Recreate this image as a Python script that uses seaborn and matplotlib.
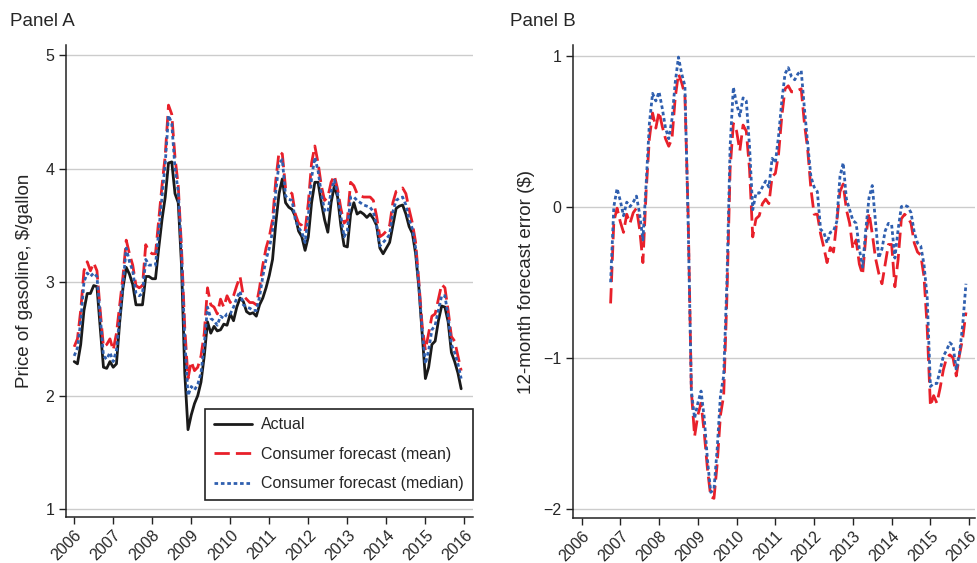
import numpy as np
import pandas as pd
import seaborn as sns
import matplotlib.pyplot as plt

# ---------------- data (monthly, Jan 2006 .. Dec 2015) ----------------
start_year = 2006
years = list(range(2006, 2017))

actual = [2.30, 2.28, 2.45, 2.75, 2.90, 2.90, 2.97, 2.96, 2.60, 2.25, 2.24, 2.30,
          2.25, 2.28, 2.65, 2.95, 3.13, 3.07, 2.98, 2.80, 2.80, 2.80, 3.05, 3.05,
          3.03, 3.03, 3.30, 3.55, 3.75, 4.05, 4.06, 3.78, 3.70, 3.15, 2.20, 1.70,
          1.83, 1.93, 2.00, 2.12, 2.35, 2.65, 2.55, 2.61, 2.57, 2.58, 2.63, 2.62,
          2.72, 2.66, 2.78, 2.86, 2.83, 2.74, 2.72, 2.73, 2.70, 2.80, 2.86, 2.95,
          3.06, 3.20, 3.52, 3.78, 3.91, 3.70, 3.66, 3.64, 3.58, 3.45, 3.40, 3.28,
          3.40, 3.70, 3.88, 3.88, 3.70, 3.55, 3.44, 3.70, 3.85, 3.75, 3.50, 3.32,
          3.31, 3.60, 3.70, 3.60, 3.62, 3.60, 3.57, 3.60, 3.56, 3.50, 3.30, 3.25,
          3.30, 3.35, 3.50, 3.65, 3.67, 3.68, 3.60, 3.49, 3.43, 3.25, 2.95, 2.55,
          2.15, 2.25, 2.45, 2.48, 2.66, 2.79, 2.78, 2.65, 2.38, 2.30, 2.20, 2.06]

forecast_mean = [2.43, 2.50, 2.75, 3.10, 3.18, 3.10, 3.17, 3.10, 2.75, 2.43, 2.45, 2.50,
                 2.40, 2.55, 2.80, 3.05, 3.37, 3.25, 3.15, 2.97, 2.95, 2.97, 3.33, 3.27,
                 3.25, 3.25, 3.55, 3.85, 4.12, 4.56, 4.48, 4.10, 3.85, 3.30, 2.60, 2.15,
                 2.30, 2.22, 2.25, 2.35, 2.55, 2.95, 2.80, 2.78, 2.72, 2.85, 2.78, 2.88,
                 2.82, 2.88, 2.97, 3.05, 2.88, 2.85, 2.82, 2.82, 2.80, 2.95, 3.15, 3.30,
                 3.40, 3.55, 3.90, 4.15, 4.13, 3.83, 3.80, 3.78, 3.60, 3.52, 3.50, 3.45,
                 3.70, 4.05, 4.20, 4.05, 3.85, 3.72, 3.75, 3.88, 3.94, 3.82, 3.65, 3.52,
                 3.55, 3.88, 3.85, 3.78, 3.76, 3.75, 3.75, 3.75, 3.72, 3.58, 3.40, 3.42,
                 3.45, 3.50, 3.70, 3.80, 3.81, 3.83, 3.78, 3.64, 3.52, 3.35, 3.00, 2.62,
                 2.40, 2.55, 2.70, 2.72, 2.85, 2.98, 2.95, 2.75, 2.52, 2.48, 2.35, 2.22]

forecast_median = [2.35, 2.42, 2.65, 3.00, 3.08, 3.05, 3.08, 3.05, 2.70, 2.35, 2.32, 2.38,
                   2.30, 2.40, 2.70, 2.98, 3.30, 3.18, 3.10, 2.90, 2.88, 2.90, 3.20, 3.15,
                   3.15, 3.15, 3.45, 3.75, 4.05, 4.47, 4.40, 4.00, 3.80, 3.25, 2.50, 2.00,
                   2.08, 2.05, 2.10, 2.20, 2.45, 2.78, 2.68, 2.66, 2.62, 2.70, 2.68, 2.72,
                   2.72, 2.78, 2.86, 2.92, 2.80, 2.78, 2.77, 2.75, 2.75, 2.87, 3.05, 3.20,
                   3.30, 3.45, 3.80, 4.05, 4.08, 3.76, 3.73, 3.72, 3.55, 3.48, 3.44, 3.35,
                   3.58, 3.92, 4.10, 3.98, 3.78, 3.63, 3.62, 3.80, 3.90, 3.78, 3.58, 3.40,
                   3.45, 3.75, 3.75, 3.72, 3.70, 3.68, 3.67, 3.66, 3.62, 3.50, 3.32, 3.35,
                   3.38, 3.42, 3.62, 3.72, 3.74, 3.75, 3.68, 3.55, 3.47, 3.30, 2.97, 2.58,
                   2.28, 2.40, 2.58, 2.62, 2.75, 2.88, 2.88, 2.70, 2.45, 2.38, 2.28, 2.15]

# Panel B: 12-month forecast errors, Oct 2006 .. Dec 2015
err_start_month = 9
error_mean = [-0.64, -0.10, -0.01,
              -0.10, -0.17, -0.05, -0.11, -0.04, -0.01, -0.15, -0.37, 0.10, 0.45, 0.62, 0.52,
              0.63, 0.53, 0.45, 0.40, 0.45, 0.72, 0.88, 0.82, 0.74, -0.05, -1.22, -1.52,
              -1.38, -1.30, -1.50, -1.74, -1.92, -1.93, -1.70, -1.38, -1.25, -0.60, 0.25, 0.55,
              0.50, 0.37, 0.54, 0.50, 0.25, -0.20, -0.08, -0.06, 0.02, 0.05, 0.02, 0.20,
              0.22, 0.35, 0.60, 0.78, 0.80, 0.76, 0.76, 0.77, 0.78, 0.55, 0.38, 0.12,
              -0.05, -0.05, -0.18, -0.27, -0.37, -0.27, -0.30, -0.10, 0.10, 0.15, -0.02, -0.11,
              -0.28, -0.22, -0.38, -0.45, -0.20, -0.04, -0.18, -0.34, -0.44, -0.51, -0.38, -0.25,
              -0.25, -0.53, -0.35, -0.08, -0.05, -0.07, -0.11, -0.24, -0.30, -0.32, -0.46, -0.80,
              -1.32, -1.25, -1.30, -1.20, -1.08, -1.00, -0.98, -1.00, -1.12, -0.98, -0.87, -0.70]

error_median = [-0.50, 0.00, 0.12,
                0.04, -0.06, 0.03, 0.00, 0.03, 0.07, -0.05, -0.22, 0.15, 0.55, 0.75, 0.70,
                0.76, 0.65, 0.52, 0.45, 0.58, 0.82, 0.99, 0.88, 0.80, -0.10, -1.22, -1.40,
                -1.30, -1.22, -1.40, -1.68, -1.89, -1.87, -1.60, -1.25, -1.12, -0.50, 0.40, 0.79,
                0.68, 0.60, 0.72, 0.70, 0.40, -0.02, 0.09, 0.09, 0.13, 0.17, 0.13, 0.32,
                0.29, 0.47, 0.70, 0.88, 0.92, 0.86, 0.84, 0.88, 0.90, 0.65, 0.42, 0.20,
                0.13, 0.10, -0.15, -0.17, -0.24, -0.17, -0.16, -0.10, 0.20, 0.29, 0.05, -0.02,
                -0.09, -0.11, -0.28, -0.40, -0.15, 0.06, 0.14, -0.10, -0.34, -0.28, -0.16, -0.11,
                -0.12, -0.34, -0.15, 0.00, 0.01, 0.00, -0.04, -0.17, -0.24, -0.26, -0.38, -0.60,
                -1.19, -1.17, -1.17, -1.08, -0.99, -0.95, -0.90, -0.92, -1.08, -0.97, -0.78, -0.51]

labels = ["Actual", "Consumer forecast (mean)", "Consumer forecast (median)"]
colors = {"Actual": "#1a1a1a", "Consumer forecast (mean)": "#e8202a",
          "Consumer forecast (median)": "#2f5faf"}
dash_map = {"Actual": "", "Consumer forecast (mean)": (5.5, 2.2),
            "Consumer forecast (median)": (1.3, 1.0)}

# ---------------- build tables ----------------
tA = start_year + np.arange(len(actual)) / 12.0
dfA = pd.concat([
    pd.DataFrame({"t": tA, "v": actual, "series": labels[0]}),
    pd.DataFrame({"t": tA, "v": forecast_mean, "series": labels[1]}),
    pd.DataFrame({"t": tA, "v": forecast_median, "series": labels[2]}),
], ignore_index=True)

tB = start_year + (err_start_month + np.arange(len(error_mean))) / 12.0
dfB = pd.concat([
    pd.DataFrame({"t": tB, "v": error_mean, "series": labels[1]}),
    pd.DataFrame({"t": tB, "v": error_median, "series": labels[2]}),
], ignore_index=True)

# ---------------- style ----------------
sns.set_style("white")
plt.rcParams["font.family"] = ["Liberation Sans", "DejaVu Sans"]

fig = plt.figure(figsize=(9.78, 5.63), dpi=100)
axA = fig.add_axes([66 / 978, 46 / 563, 407 / 978, 472 / 563])
axB = fig.add_axes([573 / 978, 45 / 563, 402 / 978, 473 / 563])

sns.lineplot(data=dfA, x="t", y="v", hue="series", style="series",
             hue_order=labels, style_order=labels, palette=colors,
             dashes=dash_map, linewidth=2.0, ax=axA)
sns.lineplot(data=dfB, x="t", y="v", hue="series", style="series",
             hue_order=labels[1:], style_order=labels[1:], palette=colors,
             dashes=dash_map, linewidth=2.0, ax=axB, legend=False)

for ax in (axA, axB):
    ax.set_xlim(2005.79, 2016.22)
    ax.set_xticks(years)
    ax.set_xticklabels([str(y) for y in years], rotation=45, ha="right",
                       rotation_mode="anchor", fontsize=11.5)
    ax.yaxis.grid(True, color="#cccccc", linewidth=1.0)
    ax.xaxis.grid(False)
    ax.set_axisbelow(True)
    for s in ("top", "right"):
        ax.spines[s].set_visible(False)
    for s in ("left", "bottom"):
        ax.spines[s].set_color("#222222")
        ax.spines[s].set_linewidth(1.1)
    ax.tick_params(axis="both", which="major", direction="out", length=5,
                   width=1.0, color="#222222", labelsize=11.5,
                   left=True, bottom=True)
    ax.tick_params(axis="x", pad=2.5)
    ax.set_xlabel("")

axA.set_ylim(0.93, 5.09)
axA.set_yticks([1, 2, 3, 4, 5])
axA.set_ylabel("Price of gasoline, $/gallon", fontsize=13.5, labelpad=9)

axB.set_xlim(2005.78, 2016.15)
axB.set_ylim(-2.06, 1.07)
axB.set_yticks([-2, -1, 0, 1])
axB.set_ylabel("12-month forecast error ($)", fontsize=13.5, labelpad=6)

leg = axA.legend(loc="lower right", bbox_to_anchor=(1.0, 0.036), fontsize=11.5,
                 frameon=True, fancybox=False, edgecolor="#222222", framealpha=1.0,
                 handlelength=2.4, borderpad=0.55, labelspacing=0.9,
                 handletextpad=0.6, borderaxespad=0.0)
leg.get_frame().set_linewidth(1.2)

fig.text(10 / 978, 1 - 22 / 563, "Panel A", fontsize=13.5, va="center", ha="left")
fig.text(510 / 978, 1 - 22 / 563, "Panel B", fontsize=13.5, va="center", ha="left")

fig.savefig("out.png", dpi=100)
